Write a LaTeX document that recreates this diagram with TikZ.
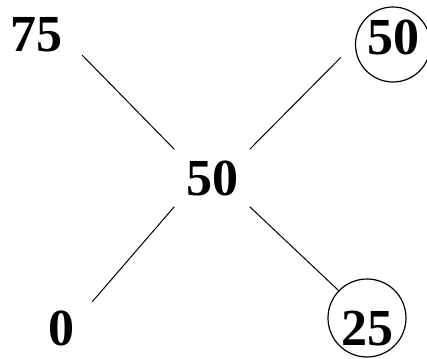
\documentclass[tikz,border=0pt]{standalone}
\usepackage{fontspec}
\setmainfont{Liberation Serif}
\usetikzlibrary{shapes.geometric, arrows}
\tikzstyle{val} = [font=\fontsize{52}{60}\selectfont\bfseries, inner sep=0pt]
\tikzstyle{ring} = [val, circle, draw=black, line width=1.2pt]
\tikzstyle{edge} = [line width=1pt]

\begin{document}
\begin{tikzpicture}[x=1pt, y=1pt]
   \useasboundingbox (0,0) rectangle (427,358);
   \node (mid) [val, minimum width=75pt, minimum height=57pt] at (212,180) {50};
   \node (n75) [val, minimum width=92pt, minimum height=40pt] at (36,323) {75};
   \node (n0) [val, minimum width=62pt, minimum height=52pt] at (61,30) {0};
   \node (top) [ring, minimum size=75pt, text height=34pt, text depth=14pt] at (393,313.5) {50};
   \node (low) [ring, minimum size=78pt, text height=54pt, text depth=0pt] at (367,40) {25};

   \draw [edge] (mid.north west) -- (n75.south east);
   \draw [edge, shorten >=20pt] (mid.north east) -- (top.178);
   \draw [edge] (mid.south west) -- (n0.north east);
   \draw [edge] (mid.south east) -- (low.136);
\end{tikzpicture}
\end{document}
